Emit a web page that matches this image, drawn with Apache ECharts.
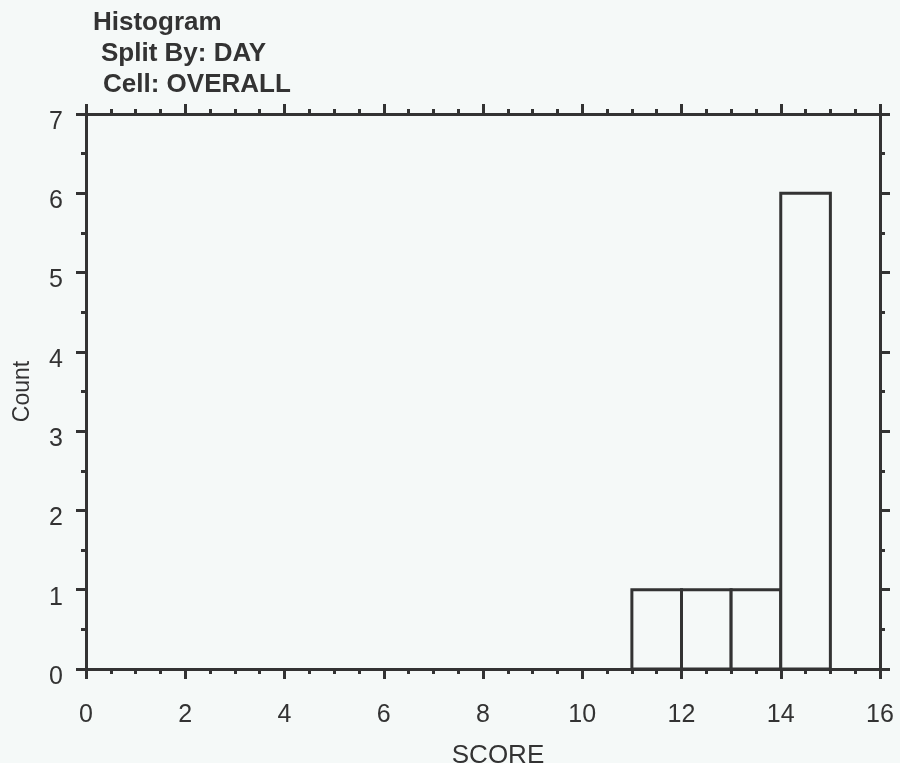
<!DOCTYPE html>
<html>
<head>
<meta charset="utf-8">
<script src="https://cdn.jsdelivr.net/npm/echarts@6/dist/echarts.min.js"></script>
<style>
html,body{margin:0;padding:0;background:#f5f9f8;}
#chart{width:900px;height:763px;}
</style>
</head>
<body>
<div id="chart"></div>
<script>
// ---- data ----
const titleLines = ['Histogram', 'Split By: DAY', 'Cell: OVERALL'];
const binStarts = [11, 12, 13, 14];
const binEnds = [12, 13, 14, 15];
const counts = [1, 1, 1, 6];
const xTicks = [0, 2, 4, 6, 8, 10, 12, 14, 16];
const yTicks = [0, 1, 2, 3, 4, 5, 6, 7];
const xName = 'SCORE';
const yName = 'Count';

const BG = '#f5f9f8';
const INK = '#333333';
const FONT = '"Liberation Sans", Arial, sans-serif';

const barData = binStarts.map((s, i) => [s, binEnds[i], counts[i]]);

const lineStyle = { color: INK, width: 3 };
const common = {
  axisLine: { show: true, onZero: false, lineStyle: lineStyle },
  axisTick: { show: true, inside: false, length: 10, lineStyle: lineStyle },
  splitLine: { show: false },
  minorSplitLine: { show: false }
};
function axis(extra) { return Object.assign({}, common, extra); }

const titleStyle = { fontFamily: FONT, fontWeight: 'bold', fontSize: 26, color: INK };

const chart = echarts.init(document.getElementById('chart'), null, { renderer: 'canvas' });
chart.setOption({
  backgroundColor: BG,
  animation: false,
  title: [
    { text: titleLines[0], left: 88, top: 5, textStyle: titleStyle },
    { text: titleLines[1], left: 96, top: 36, textStyle: titleStyle },
    { text: titleLines[2], left: 98, top: 67, textStyle: titleStyle }
  ],
  grid: { left: 86, right: 20, top: 114, bottom: 94, containLabel: false, outerBoundsMode: 'none' },
  xAxis: [
    axis({
      type: 'value', position: 'bottom', min: xTicks[0], max: xTicks[xTicks.length - 1], interval: 2,
      minorTick: { show: true, splitNumber: 4, length: 5, lineStyle: lineStyle },
      axisLabel: { show: true, margin: 34, fontFamily: FONT, fontSize: 25, color: INK },
      name: xName, nameLocation: 'middle', nameGap: 74,
      nameTextStyle: { fontFamily: FONT, fontSize: 26, color: INK, padding: [0, 0, 0, 30] }
    }),
    axis({
      type: 'value', position: 'top', min: xTicks[0], max: xTicks[xTicks.length - 1], interval: 2,
      minorTick: { show: true, splitNumber: 4, length: 5, lineStyle: lineStyle },
      axisLabel: { show: false }
    })
  ],
  yAxis: [
    axis({
      type: 'value', position: 'left', min: yTicks[0], max: yTicks[yTicks.length - 1], interval: 1,
      minorTick: { show: true, splitNumber: 2, length: 5, lineStyle: lineStyle },
      axisLabel: { show: true, margin: 23, fontFamily: FONT, fontSize: 25, color: INK, verticalAlign: 'top', lineHeight: 16 },
      name: yName, nameLocation: 'middle', nameGap: 52, nameRotate: 90,
      nameTextStyle: { fontFamily: FONT, fontSize: 23, color: INK }
    }),
    axis({
      type: 'value', position: 'right', min: yTicks[0], max: yTicks[yTicks.length - 1], interval: 1,
      minorTick: { show: true, splitNumber: 2, length: 5, lineStyle: lineStyle },
      axisLabel: { show: false }
    })
  ],
  series: [{
    type: 'custom',
    xAxisIndex: 0,
    yAxisIndex: 0,
    data: barData,
    encode: { x: [0, 1], y: 2 },
    renderItem: function (params, api) {
      const tl = api.coord([api.value(0), api.value(2)]);
      const br = api.coord([api.value(1), 0]);
      return {
        type: 'rect',
        shape: { x: tl[0], y: tl[1], width: br[0] - tl[0], height: br[1] - tl[1] },
        style: { fill: BG, stroke: INK, lineWidth: 3 }
      };
    }
  }]
});
</script>
</body>
</html>
